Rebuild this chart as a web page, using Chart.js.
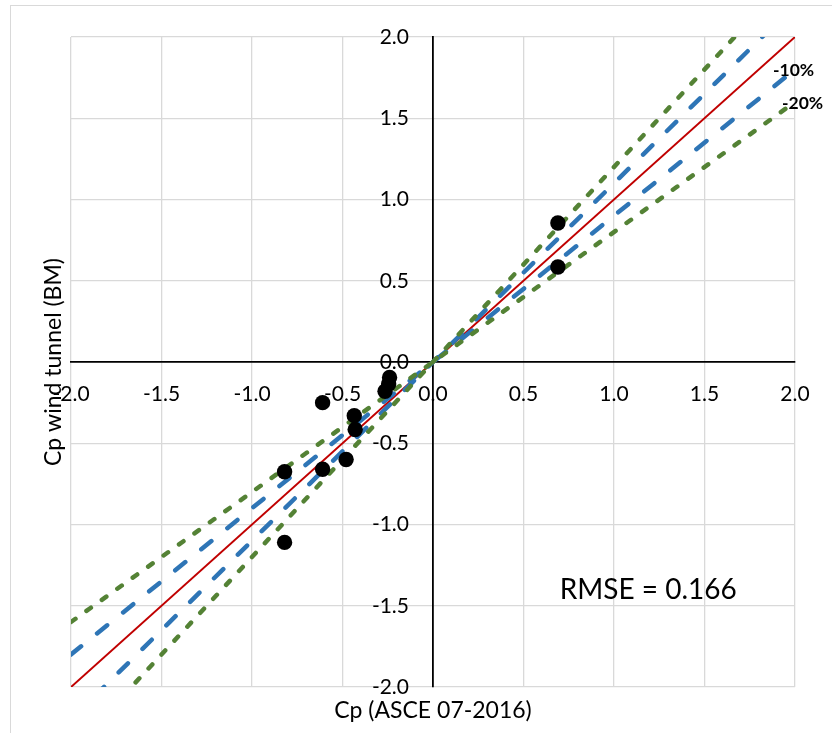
<!DOCTYPE html>
<html>
<head>
<meta charset="utf-8">
<script src="https://cdn.jsdelivr.net/npm/chart.js@4.4.1/dist/chart.umd.min.js"></script>
<style>
  html, body { margin:0; padding:0; background:#fff; }
  #wrap { position:absolute; left:0; top:0; width:832px; height:733px; overflow:hidden; }
  #frame { position:absolute; left:10px; top:5px; width:900px; height:800px; border:1px solid #d9d9d9; }
  canvas { position:absolute; left:0; top:0; }
</style>
</head>
<body>
<div id="wrap">
  <div id="frame"></div>
  <canvas id="c" width="832" height="733"></canvas>
</div>
<script>
// Measured points: Cp (ASCE 07-2016) vs Cp wind tunnel (BM)
const asceCp   = [0.69, 0.69, -0.82, -0.82, -0.61, -0.61, -0.48, -0.435, -0.43, -0.24, -0.245, -0.265];
const tunnelCp = [0.855, 0.585, -0.675, -1.11, -0.25, -0.66, -0.60, -0.33, -0.415, -0.095, -0.135, -0.18];

// Reference lines (end points at x = -2 and x = 2)
const lineX      = [-2, 2];
const lineEqual  = [-2, 2];
const linePlus10 = [-2.2, 2.2];
const lineMinus10= [-1.8, 1.8];
const linePlus20 = [-2.4, 2.4];
const lineMinus20= [-1.6, 1.6];

const tickLabels = ['-2.0','-1.5','-1.0','-0.5','0.0','0.5','1.0','1.5','2.0'];

const pts = (xs, ys) => xs.map((x, i) => ({x, y: ys[i]}));

const FONT = 'Lato, "Open Sans", sans-serif';

const annotations = {
  id: 'annotations',
  afterDatasetsDraw(chart) {
    const {ctx, chartArea, scales} = chart;
    const xs = scales.x, ys = scales.y;
    ctx.save();
    ctx.fillStyle = '#000';
    // line labels
    ctx.font = 'bold 17.5px ' + FONT;
    ctx.textAlign = 'left';
    ctx.textBaseline = 'middle';
    ctx.fillText('-10%', xs.getPixelForValue(lineX[1]) - 22, ys.getPixelForValue(lineMinus10[1]) + 1);
    ctx.fillText('-20%', xs.getPixelForValue(lineX[1]) - 13, ys.getPixelForValue(lineMinus20[1]) + 1);
    // RMSE
    ctx.font = '28px ' + FONT;
    ctx.fillText('RMSE = 0.166', xs.getPixelForValue(0.7), ys.getPixelForValue(-1.4));
    // axis titles
    ctx.font = '23px ' + FONT;
    ctx.textAlign = 'center';
    ctx.fillText('Cp (ASCE 07-2016)', (chartArea.left + chartArea.right) / 2, 711);
    ctx.translate(54, (chartArea.top + chartArea.bottom) / 2);
    ctx.rotate(-Math.PI / 2);
    ctx.fillText('Cp wind tunnel (BM)', 0, 0);
    ctx.restore();
  }
};

const axisCommon = {
  type: 'linear',
  min: -2, max: 2,
  grid: { color: '#d9d9d9', lineWidth: 1.3, drawTicks: false },
  border: { color: '#000', width: 1.8 },
};

new Chart(document.getElementById('c'), {
  type: 'scatter',
  data: {
    datasets: [
      { type:'scatter', data: pts(asceCp, tunnelCp), backgroundColor:'#000', borderWidth:0, pointRadius:7.7, order:0 },
      { type:'line', data: pts(lineX, lineEqual), borderColor:'#c00000', borderWidth:2, pointRadius:0, clip:0, order:3 },
      { type:'line', data: pts(lineX, linePlus10), borderColor:'#2e75b6', borderWidth:4.5, borderDash:[13,20.5], borderCapStyle:'round', pointRadius:0, clip:0, order:2 },
      { type:'line', data: pts(lineX, lineMinus10), borderColor:'#2e75b6', borderWidth:4.5, borderDash:[13,20.5], borderCapStyle:'round', pointRadius:0, clip:0, order:2 },
      { type:'line', data: pts(lineX, linePlus20), borderColor:'#548235', borderWidth:4.5, borderDash:[5.5,13.5], borderCapStyle:'round', pointRadius:0, clip:0, order:1 },
      { type:'line', data: pts(lineX, lineMinus20), borderColor:'#548235', borderWidth:4.5, borderDash:[5.5,13.5], borderCapStyle:'round', pointRadius:0, clip:0, order:1 },
    ]
  },
  options: {
    responsive: false,
    animation: false,
    layout: { padding: { left: 71, top: 37, right: 37, bottom: 46 } },
    plugins: { legend: { display:false }, tooltip: { enabled:false }, title: { display:false } },
    scales: {
      x: Object.assign({}, axisCommon, {
        position: { y: 0 },
        ticks: { stepSize: 0.5, padding: 20, color:'#000', font: { family: FONT, size: 21 },
                 callback: (v) => tickLabels[Math.round((v + 2) / 0.5)] },
      }),
      y: Object.assign({}, axisCommon, {
        position: 'center',
        ticks: { stepSize: 0.5, padding: 24, color:'#000', font: { family: FONT, size: 21 },
                 callback: (v) => tickLabels[Math.round((v + 2) / 0.5)] },
      }),
    }
  },
  plugins: [annotations]
});
</script>
</body>
</html>
